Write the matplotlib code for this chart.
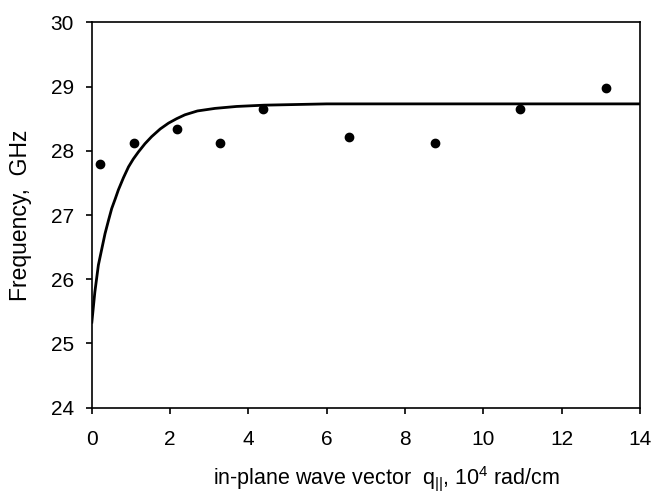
import matplotlib
matplotlib.use("Agg")
import matplotlib.pyplot as plt

plt.rcParams['font.family'] = ['Liberation Sans', 'DejaVu Sans']
plt.rcParams['mathtext.fontset'] = 'custom'
plt.rcParams['mathtext.rm'] = 'Liberation Sans'
plt.rcParams['mathtext.it'] = 'Liberation Sans:italic'

# measured points
q_points = [0.20, 1.08, 2.19, 3.28, 4.37, 6.57, 8.76, 10.95, 13.13]
f_points = [27.79, 28.12, 28.34, 28.12, 28.65, 28.22, 28.12, 28.65, 28.97]

# fitted curve
q_curve = [0.0, 0.08, 0.17, 0.26, 0.34, 0.43, 0.51, 0.60, 0.68, 0.81, 0.94, 1.06, 1.19, 1.36, 1.53,
           1.75, 1.96, 2.17, 2.38, 2.70, 3.15, 3.70, 4.40, 5.2, 6.0, 8.0, 10.0, 12.0, 14.0]
f_curve = [25.31, 25.80, 26.22, 26.48, 26.71, 26.92, 27.10, 27.25, 27.39, 27.58, 27.75, 27.87, 27.98, 28.11, 28.22,
           28.34, 28.43, 28.50, 28.56, 28.62, 28.66, 28.69, 28.71, 28.72, 28.73, 28.73, 28.73, 28.73, 28.73]

fig = plt.figure(figsize=(6.57, 4.97), dpi=100)
ax = fig.add_axes([0.1396, 0.1797, 0.8344, 0.7754])

ax.plot(q_curve, f_curve, color='black', lw=2.0, solid_capstyle='butt', solid_joinstyle='round')
ax.plot(q_points, f_points, 'o', color='black', ms=6, mec='black')

ax.set_xlim(0, 14)
ax.set_ylim(24, 30)
ax.set_xticks(range(0, 15, 2))
ax.set_yticks(range(24, 31))

for s in ax.spines.values():
    s.set_linewidth(1.2)
ax.tick_params(direction='out', length=4, width=1.2, labelsize=15)
ax.tick_params(axis='y', pad=9)
ax.tick_params(axis='x', pad=12)

ax.set_xlabel(r'in-plane wave vector  q$_{\mathrm{||}}$, 10$^{4}$ rad/cm', fontsize=15.5)
ax.xaxis.set_label_coords(0.537, -0.183)
ax.xaxis.label.set_va('center')
ax.set_ylabel('Frequency,  GHz', fontsize=16.5, labelpad=13)

fig.savefig('out.png', dpi=100)
